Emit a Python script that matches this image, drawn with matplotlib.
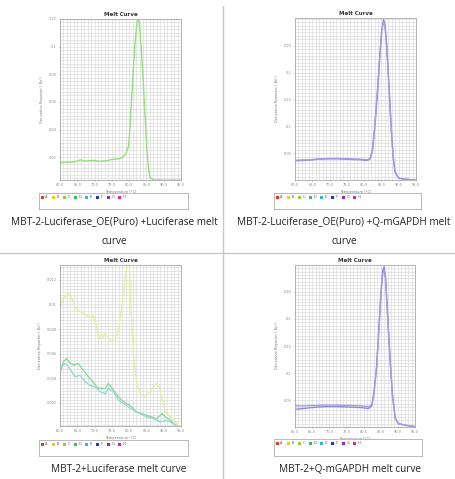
import matplotlib
matplotlib.use("Agg")
import matplotlib.pyplot as plt
from matplotlib.patches import Rectangle
from matplotlib.ticker import MultipleLocator

W, H = 456, 479

# temperature ticks shared by all four instrument screenshots
temp_ticks = [60, 65, 70, 75, 80, 85, 90, 95]

# top left: MBT-2-Luciferase_OE(Puro) + Luciferase
tl_temp = [60.0, 61.9, 63.9, 65.8, 67.7, 69.6, 71.6, 73.5, 75.4, 77.4, 78.3, 79.1, 79.8,
           80.2, 80.7, 81.2, 81.7, 82.2, 82.7, 83.1, 83.6, 84.1, 84.6, 85.1, 85.6, 86.0,
           87.0, 88.9, 90.9, 92.8, 95.0]
tl_green = [0.0161, 0.0164, 0.0166, 0.0181, 0.0173, 0.0178, 0.0171, 0.0176, 0.0186, 0.0190,
            0.0205, 0.0229, 0.0277, 0.0398, 0.0614, 0.0831, 0.1024, 0.1157, 0.1225, 0.1120,
            0.0952, 0.0735, 0.0494, 0.0277, 0.0120, 0.0055, 0.0036, 0.0036, 0.0034, 0.0036,
            0.0034]
tl_yticks = [0.02, 0.04, 0.06, 0.08, 0.10, 0.12]

# top right: MBT-2-Luciferase_OE(Puro) + Q-mGAPDH
tr_temp = [60.0, 62.4, 64.8, 67.2, 69.6, 72.1, 74.5, 76.9, 79.3, 80.7, 81.7, 82.4, 83.1,
           83.9, 84.6, 85.1, 85.6, 86.0, 86.5, 87.0, 87.5, 88.0, 88.4, 88.9, 89.9, 91.3,
           93.3, 95.0]
tr_rep1 = [0.0358, 0.0364, 0.0376, 0.0389, 0.0395, 0.0395, 0.0389, 0.0382, 0.0376, 0.0364,
           0.0389, 0.0531, 0.0995, 0.1676, 0.2358, 0.2791, 0.2989, 0.2915, 0.2543, 0.1986,
           0.1367, 0.0810, 0.0438, 0.0159, 0.0036, 0.0017, 0.0005, 0.0005]
tr_rep2 = [0.0370, 0.0372, 0.0380, 0.0392, 0.0400, 0.0402, 0.0398, 0.0392, 0.0386, 0.0375,
           0.0398, 0.0560, 0.1040, 0.1720, 0.2380, 0.2780, 0.2950, 0.2880, 0.2500, 0.1950,
           0.1340, 0.0790, 0.0420, 0.0150, 0.0040, 0.0020, 0.0008, 0.0006]
tr_yticks = [0.05, 0.10, 0.15, 0.20, 0.25]

# bottom left: MBT-2 + Luciferase (no target, noisy)
bl_temp_y = [60.0, 61.0, 62.4, 63.4, 64.4, 65.8, 67.3, 68.7, 69.7, 70.6, 71.1, 72.1, 73.1,
             74.0, 75.0, 76.0, 76.9, 77.9, 78.9, 79.6, 80.1, 80.5, 81.3, 82.2, 83.2, 84.7,
             85.6, 87.1, 88.0, 88.8, 90.0, 90.9, 91.9, 93.4, 94.3]
bl_yellow = [0.00955, 0.01051, 0.01086, 0.01051, 0.00969, 0.00942, 0.00915, 0.00896, 0.00907,
             0.00820, 0.00738, 0.00724, 0.00765, 0.00724, 0.00697, 0.00711, 0.00792, 0.00983,
             0.01227, 0.01360, 0.01336, 0.00983, 0.00575, 0.00358, 0.00276, 0.00249, 0.00276,
             0.00330, 0.00358, 0.00330, 0.00167, 0.00113, 0.00086, 0.00045, 0.00018]
bl_temp_g = [60.0, 61.0, 61.9, 62.9, 63.9, 65.3, 66.8, 68.2, 69.2, 70.6, 71.6, 73.1, 74.0,
             75.5, 76.9, 77.9, 79.3, 80.8, 82.2, 83.7, 85.1, 86.6, 88.0, 89.5, 90.5, 91.9, 93.4]
bl_green = [0.00439, 0.00534, 0.00561, 0.00526, 0.00507, 0.00521, 0.00466, 0.00412, 0.00385,
            0.00330, 0.00317, 0.00317, 0.00358, 0.00303, 0.00249, 0.00222, 0.00195, 0.00167,
            0.00127, 0.00113, 0.00099, 0.00086, 0.00072, 0.00113, 0.00086, 0.00059, 0.00018]
bl_temp_t = [60.0, 61.5, 62.4, 63.4, 64.4, 65.8, 67.3, 68.7, 70.2, 71.6, 73.1, 74.0, 75.5,
             76.9, 78.4, 79.8, 81.3, 83.2, 85.1, 87.1, 89.0, 90.5, 91.9, 93.8]
bl_teal = [0.00493, 0.00521, 0.00493, 0.00453, 0.00412, 0.00426, 0.00371, 0.00344, 0.00330,
           0.00290, 0.00276, 0.00317, 0.00290, 0.00222, 0.00195, 0.00167, 0.00140, 0.00113,
           0.00086, 0.00072, 0.00045, 0.00059, 0.00045, 0.00018]
bl_yticks = [0.002, 0.004, 0.006, 0.008, 0.010, 0.012]

# bottom right: MBT-2 + Q-mGAPDH
br_temp = [60.0, 62.4, 64.9, 67.3, 69.7, 72.2, 74.6, 77.0, 79.4, 81.4, 82.4, 83.0, 83.8,
           84.5, 85.1, 85.6, 86.0, 86.4, 87.0, 87.7, 88.4, 89.2, 90.1, 92.1, 95.0]
br_rep1 = [0.0333, 0.0345, 0.0364, 0.0376, 0.0382, 0.0382, 0.0376, 0.0370, 0.0364, 0.0345,
           0.0395, 0.0611, 0.1107, 0.1850, 0.2531, 0.2903, 0.2965, 0.2779, 0.2098, 0.1293,
           0.0611, 0.0178, 0.0067, 0.0036, 0.0011]
br_rep2 = [0.0395, 0.0395, 0.0400, 0.0407, 0.0410, 0.0410, 0.0405, 0.0400, 0.0395, 0.0380,
           0.0420, 0.0630, 0.1120, 0.1830, 0.2480, 0.2840, 0.2900, 0.2730, 0.2060, 0.1270,
           0.0600, 0.0180, 0.0070, 0.0040, 0.0015]
br_yticks = [0.05, 0.10, 0.15, 0.20, 0.25]

well_labels = ["A", "B", "C", "D", "E", "F", "G", "H"]
well_colors = ["#e03a20", "#e8d020", "#98d030", "#30c060", "#30b8d8", "#2038c8", "#9028c8", "#d82888"]


def px_axes(fig, left, top, right, bottom, **kw):
    return fig.add_axes([left / W, 1 - bottom / H, (right - left) / W, (bottom - top) / H], **kw)


def melt_panel(fig, box, series, yticks, ylim, grid_y):
    ax = px_axes(fig, *box)
    for xs, ys, c in series:
        ax.plot(xs, ys, color=c, lw=1.0)
    ax.set_xlim(60, 95)
    ax.set_ylim(*ylim)
    ax.set_xticks(temp_ticks)
    ax.set_xticklabels([f"{t:.1f}" for t in temp_ticks])
    ax.set_yticks(yticks)
    ax.set_yticklabels([f"{v:g}" for v in yticks])
    ax.xaxis.set_minor_locator(MultipleLocator(1))
    ax.yaxis.set_minor_locator(MultipleLocator(grid_y))
    ax.grid(which="both", color="#dcdcdc", lw=0.5)
    ax.set_axisbelow(True)
    ax.tick_params(labelsize=2.5, length=1, width=0.4, colors="#888888", pad=1.5)
    ax.tick_params(which="minor", length=0)
    for s in ax.spines.values():
        s.set_color("#a8a8a8")
        s.set_linewidth(0.6)
    ax.set_title("Melt Curve", fontsize=4, fontweight="bold", pad=2, color="#333333")
    ax.set_xlabel("Temperature (°C)", fontsize=2.6, labelpad=1.5, color="#777777")
    ax.set_ylabel("Derivative Reporter (-Rn')", fontsize=2.6, labelpad=3, color="#777777")
    return ax


def legend_box(fig, left, top, right, bottom):
    ax = px_axes(fig, left, top, right, bottom)
    ax.set_xlim(left, right)
    ax.set_ylim(bottom, top)
    ax.set_xticks([])
    ax.set_yticks([])
    for s in ax.spines.values():
        s.set_color("#b0b0b0")
        s.set_linewidth(0.6)
    for i, (lab, c) in enumerate(zip(well_labels, well_colors)):
        x = left + 2 + i * 11
        ax.add_patch(Rectangle((x, top + 3), 3.5, 2.6, color=c, lw=0))
        ax.text(x + 4.3, top + 4.3, lab, fontsize=2.5, va="center", ha="left", color="#555555")


fig = plt.figure(figsize=(W / 100, H / 100), dpi=100)
fig.patch.set_facecolor("white")

melt_panel(fig, (60, 19, 181, 180), [(tl_temp, tl_green, "#94e07c")],
           tl_yticks, (0.0036, 0.12), 0.0025)
melt_panel(fig, (295, 18, 416, 180),
           [(tr_temp, tr_rep1, "#8c8cdc"), (tr_temp, tr_rep2, "#a49ce0")],
           tr_yticks, (0.0, 0.302), 0.00625)
melt_panel(fig, (60, 265, 181, 426),
           [(bl_temp_y, bl_yellow, "#e6eea0"), (bl_temp_g, bl_green, "#8cd8a0"),
            (bl_temp_t, bl_teal, "#9cd8d0")],
           bl_yticks, (0.00013, 0.0132), 0.00025)
melt_panel(fig, (295, 265, 415, 427),
           [(br_temp, br_rep1, "#8c8cdc"), (br_temp, br_rep2, "#a49ce0")],
           br_yticks, (0.0005, 0.2995), 0.00625)

legend_box(fig, 39, 193, 188, 209)
legend_box(fig, 274, 193, 421, 209)
legend_box(fig, 39, 440, 188, 456)
legend_box(fig, 274, 439, 422, 456)

# separators between the four screenshots
fig.add_artist(plt.Line2D([223 / W, 223 / W], [0, 1 - 6 / H], color="#c8c8c8", lw=1))
fig.add_artist(plt.Line2D([0, 1], [1 - 253 / H, 1 - 253 / H], color="#c8c8c8", lw=1))

cap = dict(fontsize=7.2, family="Open Sans", color="#222222", va="center")
fig.text(114 / W, 1 - 222 / H, "MBT-2-Luciferase_OE(Puro) +Luciferase melt", ha="center", **cap)
fig.text(114 / W, 1 - 241 / H, "curve", ha="center", **cap)
fig.text(344 / W, 1 - 222 / H, "MBT-2-Luciferase_OE(Puro) +Q-mGAPDH melt", ha="center", **cap)
fig.text(344 / W, 1 - 241 / H, "curve", ha="center", **cap)
fig.text(119 / W, 1 - 470 / H, "MBT-2+Luciferase melt curve", ha="center", **cap)
fig.text(350 / W, 1 - 470 / H, "MBT-2+Q-mGAPDH melt curve", ha="center", **cap)

fig.savefig("out.png", dpi=100)
